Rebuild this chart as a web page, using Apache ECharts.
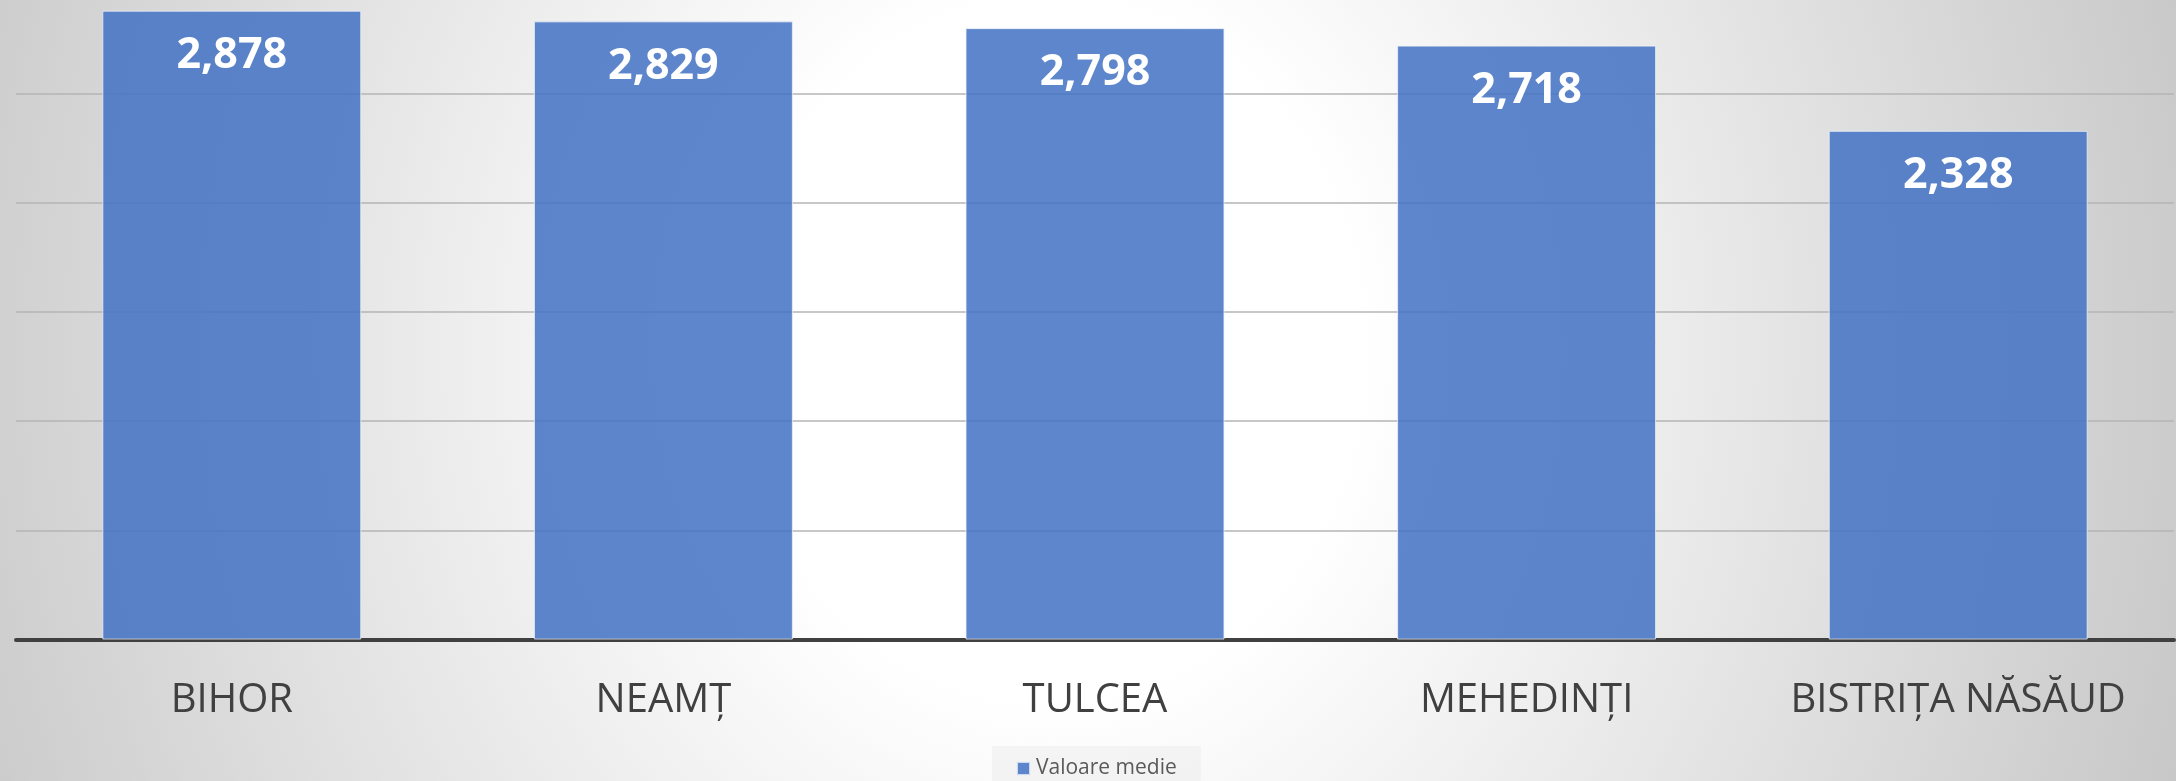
<!DOCTYPE html>
<html>
<head>
<meta charset="utf-8">
<script src="https://cdn.jsdelivr.net/npm/echarts@6/dist/echarts.min.js"></script>
<style>
  html, body { margin: 0; padding: 0; overflow: hidden; }
  body {
    width: 2176px; height: 781px; position: relative;
    background: radial-gradient(ellipse 1250px 1400px at 1050px 350px, #ffffff 0%, #ffffff 25%, #c4c4c4 100%);
  }
  #chart { position: absolute; left: 0; top: -16px; width: 2176px; height: 797px; }
</style>
</head>
<body>
<div id="chart"></div>
<script>
const categories = ['BIHOR', 'NEAMȚ', 'TULCEA', 'MEHEDINȚI', 'BISTRIȚA NĂSĂUD'];
const values = [2.878, 2.829, 2.798, 2.718, 2.328];
const seriesName = 'Valoare medie';

const chart = echarts.init(document.getElementById('chart'));
chart.setOption({
  backgroundColor: 'transparent',
  animation: false,
  grid: { left: 16, right: 2, top: 0, bottom: 141.5, containLabel: false },
  legend: {
    data: [seriesName],
    left: 992,
    top: 762,
    padding: [12, 24, 14, 24],
    backgroundColor: 'rgba(210,210,210,0.18)',
    itemWidth: 13,
    itemHeight: 13,
    itemGap: 10,
    icon: 'rect',
    textStyle: { fontFamily: 'Open Sans', fontSize: 21, color: '#595959', padding: [0, 0, 0, 1] }
  },
  xAxis: {
    type: 'category',
    data: categories,
    axisLine: { show: true, lineStyle: { color: '#404040', width: 4 } },
    axisTick: { show: false },
    axisLabel: {
      interval: 0,
      hideOverlap: false,
      fontFamily: 'Open Sans', fontSize: 40, color: '#404040',
      margin: 41, lineHeight: 40
    }
  },
  yAxis: {
    type: 'value',
    min: 0, max: 3, interval: 0.5,
    axisLabel: { show: false },
    axisLine: { show: false },
    axisTick: { show: false },
    splitLine: { show: true, lineStyle: { color: '#b4b4b4', width: 1.5 } }
  },
  series: [{
    name: seriesName,
    type: 'bar',
    data: values,
    barCategoryGap: '40%',
    itemStyle: {
      color: 'rgba(68,114,196,0.86)',
      borderColor: 'rgba(235,240,248,0.8)',
      borderWidth: 1
    },
    label: {
      show: true,
      position: 'insideTop',
      distance: 23,
      fontFamily: 'Open Sans',
      fontWeight: 'bold',
      fontSize: 43,
      lineHeight: 44,
      color: '#ffffff',
      formatter: p => p.value.toFixed(3).replace('.', ',')
    }
  }]
});
</script>
</body>
</html>
